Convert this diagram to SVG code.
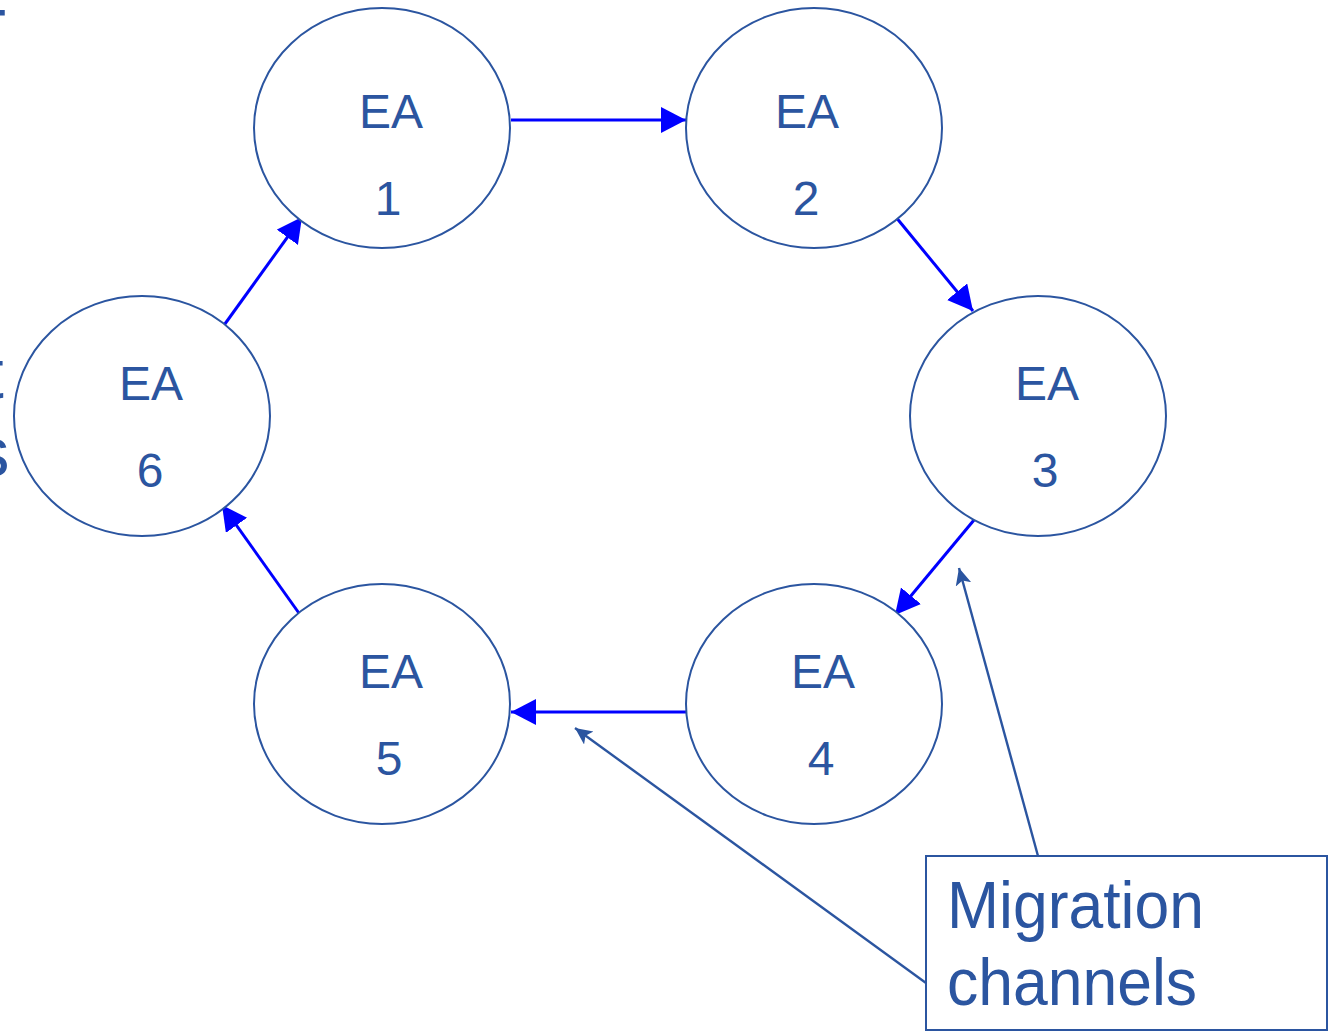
<svg xmlns="http://www.w3.org/2000/svg" width="1332" height="1031" viewBox="0 0 1332 1031">
  <style>
    .node ellipse { fill: #ffffff; stroke: #2b55a0; stroke-width: 2; }
    .node text { font-family: "Liberation Sans", Arial, sans-serif; font-size: 48px; fill: #2b55a0; text-anchor: middle; }
    .flow { stroke: #0000ff; stroke-width: 3; fill: none; }
    .callout { stroke: #2b55a0; stroke-width: 2.4; fill: none; }
    .edge-text { font-family: "Liberation Sans", Arial, sans-serif; font-size: 71px; fill: #2b55a0; }
  </style>
  <defs>
    <marker id="flowHead" markerUnits="userSpaceOnUse" markerWidth="28" markerHeight="28" refX="25" refY="13" orient="auto">
      <path d="M0,0 L25,13 L0,26 Z" fill="#0000ff"/>
    </marker>
    <marker id="calloutHead" markerUnits="userSpaceOnUse" markerWidth="20" markerHeight="18" refX="17" refY="8" orient="auto">
      <path d="M0,0 L17,8 L0,16 L4,8 Z" fill="#2b55a0"/>
    </marker>
  </defs>

  <rect width="1332" height="1031" fill="#ffffff"/>

  <!-- text cut off at the left edge -->
  <text class="edge-text" x="-37" y="59">T</text>
  <text class="edge-text" x="-16" y="398">t</text>
  <text class="edge-text" x="-26" y="476">s</text>

  <g id="connectors">
    <line class="flow" x1="511" y1="120" x2="686" y2="120" marker-end="url(#flowHead)"/>
    <line class="flow" x1="895" y1="216" x2="973" y2="311" marker-end="url(#flowHead)"/>
    <line class="flow" x1="974" y1="520" x2="895" y2="615" marker-end="url(#flowHead)"/>
    <line class="flow" x1="686" y1="712" x2="511" y2="712" marker-end="url(#flowHead)"/>
    <line class="flow" x1="301" y1="616" x2="222" y2="505" marker-end="url(#flowHead)"/>
    <line class="flow" x1="222" y1="328" x2="302" y2="217" marker-end="url(#flowHead)"/>
    <line class="callout" x1="1038" y1="856" x2="959" y2="568" marker-end="url(#calloutHead)"/>
    <line class="callout" x1="926" y1="983" x2="575" y2="728" marker-end="url(#calloutHead)"/>
  </g>

  <g id="ea1" class="node">
    <ellipse cx="382" cy="128" rx="128" ry="120"/>
    <text x="391" y="128">EA</text>
    <text x="388" y="215">1</text>
  </g>
  <g id="ea2" class="node">
    <ellipse cx="814" cy="128" rx="128" ry="120"/>
    <text x="807" y="128">EA</text>
    <text x="806" y="215">2</text>
  </g>
  <g id="ea3" class="node">
    <ellipse cx="1038" cy="416" rx="128" ry="120"/>
    <text x="1047" y="400">EA</text>
    <text x="1045" y="487">3</text>
  </g>
  <g id="ea4" class="node">
    <ellipse cx="814" cy="704" rx="128" ry="120"/>
    <text x="823" y="688">EA</text>
    <text x="821" y="775">4</text>
  </g>
  <g id="ea5" class="node">
    <ellipse cx="382" cy="704" rx="128" ry="120"/>
    <text x="391" y="688">EA</text>
    <text x="389" y="775">5</text>
  </g>
  <g id="ea6" class="node">
    <ellipse cx="142" cy="416" rx="128" ry="120"/>
    <text x="151" y="400">EA</text>
    <text x="150" y="487">6</text>
  </g>

  <g id="migration-label">
    <rect x="926" y="856" width="401" height="174" fill="#ffffff" stroke="#2b55a0" stroke-width="2"/>
    <text x="947" y="928" font-family="'Liberation Sans', Arial, sans-serif" font-size="66" fill="#2b55a0" textLength="257" lengthAdjust="spacingAndGlyphs">Migration</text>
    <text x="947" y="1005" font-family="'Liberation Sans', Arial, sans-serif" font-size="66" fill="#2b55a0" textLength="250" lengthAdjust="spacingAndGlyphs">channels</text>
  </g>
</svg>
